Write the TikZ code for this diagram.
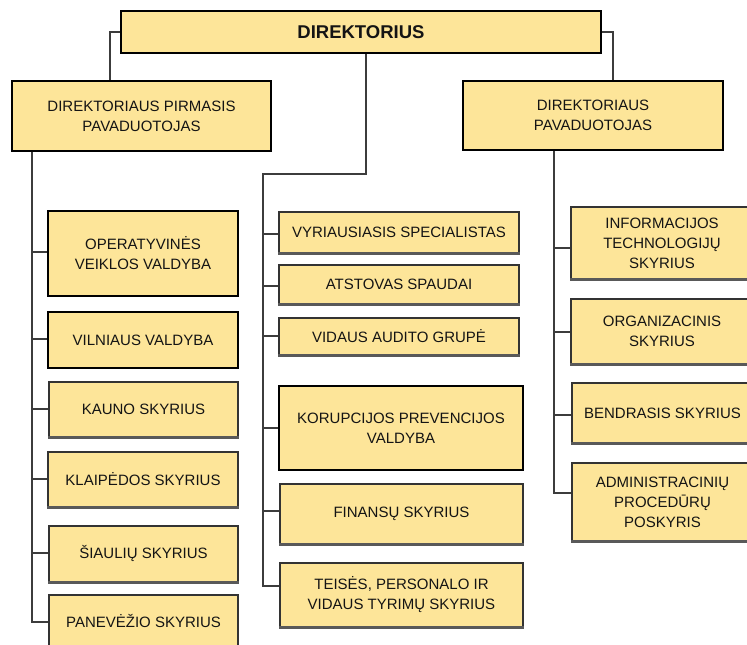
\documentclass[tikz,border=0pt]{standalone}
\usepackage{fontspec}
\setmainfont{Liberation Sans}
\definecolor{boxfill}{RGB}{253,229,153}
\definecolor{linegray}{RGB}{60,60,60}
\definecolor{txt}{RGB}{20,20,20}
\tikzset{
  base/.style={rectangle, fill=boxfill, text=txt, align=center, inner sep=0pt,
    font=\fontsize{15}{20}\selectfont},
  thickbox/.style={base, draw=black, line width=2.6pt},
  thinbox/.style={base, draw=black!80, line width=1.3pt},
  conn/.style={draw=linegray, line width=2.4pt},
  shadowline/.style={draw=black!65, line width=2.4pt},
}
\begin{document}
\begin{tikzpicture}[x=1pt,y=-1pt]
\useasboundingbox (0,0) rectangle (747,645);
\clip (0,0) rectangle (747,645);
\fill[white] (0,0) rectangle (747,645);

% top
\node[thickbox, minimum width=480, minimum height=42, font=\fontsize{18.5}{22}\bfseries\selectfont] (dir) at (361,32) {DIREKTORIUS};
\node[thickbox, minimum width=259, minimum height=70] (dep1) at (141.5,116) {DIREKTORIAUS PIRMASIS\\PAVADUOTOJAS};
\node[thickbox, minimum width=260, minimum height=69] (dep2) at (593,115.5) {DIREKTORIAUS\\PAVADUOTOJAS};

% left column
\node[thickbox, minimum width=190, minimum height=85] (op) at (143,253.5) {OPERATYVINĖS\\VEIKLOS VALDYBA};
\node[thickbox, minimum width=190, minimum height=56] (vil) at (143,340) {VILNIAUS VALDYBA};
\node[thinbox, minimum width=189, minimum height=55] (kau) at (143.5,409.5) {KAUNO SKYRIUS};
\node[thinbox, minimum width=190, minimum height=55] (kla) at (143,479.5) {KLAIPĖDOS SKYRIUS};
\node[thinbox, minimum width=189, minimum height=56] (sia) at (143.5,554) {ŠIAULIŲ SKYRIUS};
\node[thinbox, minimum width=189, minimum height=53] (pan) at (143.5,621.5) {PANEVĖŽIO SKYRIUS};

% centre column
\node[thinbox, minimum width=240, minimum height=41] (vyr) at (399,232.5) {VYRIAUSIASIS SPECIALISTAS};
\node[thinbox, minimum width=240, minimum height=39] (ats) at (399,284.5) {ATSTOVAS SPAUDAI};
\node[thinbox, minimum width=240, minimum height=37] (vid) at (399,336.5) {VIDAUS AUDITO GRUPĖ};
\node[thickbox, minimum width=244, minimum height=84] (kor) at (401,428) {KORUPCIJOS PREVENCIJOS\\VALDYBA};
\node[thinbox, minimum width=243, minimum height=60] (fin) at (401.5,514) {FINANSŲ SKYRIUS};
\node[thinbox, minimum width=243, minimum height=64] (tei) at (401.5,595) {TEISĖS, PERSONALO IR\\VIDAUS TYRIMŲ SKYRIUS};

% right column
\node[thinbox, minimum width=182, minimum height=72] (inf) at (662,243) {INFORMACIJOS\\TECHNOLOGIJŲ\\SKYRIUS};
\node[thinbox, minimum width=182, minimum height=65] (org) at (662,331.5) {ORGANIZACINIS\\SKYRIUS};
\node[thinbox, minimum width=181, minimum height=60] (ben) at (662.5,413) {BENDRASIS SKYRIUS};
\node[thinbox, minimum width=181, minimum height=78] (adm) at (662.5,502) {ADMINISTRACINIŲ\\PROCEDŪRŲ\\POSKYRIS};

% box shadows on thin boxes
\foreach \b in {kau,kla,sia,vyr,ats,vid,fin,tei,inf,org,ben,adm}
  \draw[shadowline] (\b.south west) -- (\b.south east);

% spine coordinates
\coordinate (lt) at (110,32);
\coordinate (rt) at (613,32);
\coordinate (cdown) at (366,174);
\coordinate (cspine) at (263,174);
\coordinate (lspine) at (32,151);
\coordinate (rspine) at (554,150);

% director to deputies
\draw[conn] (dir.west) -- (lt) -- (lt |- dep1.north);
\draw[conn] (dir.east) -- (rt) -- (rt |- dep2.north);

% centre spine
\coordinate (jvyr) at (263,234);
\coordinate (jats) at (263,286);
\coordinate (jvid) at (263,336);
\coordinate (jkor) at (263,428);
\coordinate (jfin) at (263,511);
\coordinate (jtei) at (263,586);
\draw[conn] (dir.south -| cdown) -- (cdown) -- (cspine) -- (jtei) -- (jtei -| tei.west);
\draw[conn] (jvyr) -- (jvyr -| vyr.west);
\draw[conn] (jats) -- (jats -| ats.west);
\draw[conn] (jvid) -- (jvid -| vid.west);
\draw[conn] (jkor) -- (jkor -| kor.west);
\draw[conn] (jfin) -- (jfin -| fin.west);

% left spine
\coordinate (jop) at (32,252);
\coordinate (jvil) at (32,339);
\coordinate (jkau) at (32,409);
\coordinate (jkla) at (32,479);
\coordinate (jsia) at (32,553);
\coordinate (jpan) at (32,622);
\draw[conn] (dep1.south -| lspine) -- (jpan) -- (jpan -| pan.west);
\draw[conn] (jop) -- (jop -| op.west);
\draw[conn] (jvil) -- (jvil -| vil.west);
\draw[conn] (jkau) -- (jkau -| kau.west);
\draw[conn] (jkla) -- (jkla -| kla.west);
\draw[conn] (jsia) -- (jsia -| sia.west);

% right spine
\coordinate (jinf) at (554,248);
\coordinate (jorg) at (554,332);
\coordinate (jben) at (554,415);
\coordinate (jadm) at (554,493);
\draw[conn] (dep2.south -| rspine) -- (jadm) -- (jadm -| adm.west);
\draw[conn] (jinf) -- (jinf -| inf.west);
\draw[conn] (jorg) -- (jorg -| org.west);
\draw[conn] (jben) -- (jben -| ben.west);
\end{tikzpicture}
\end{document}
